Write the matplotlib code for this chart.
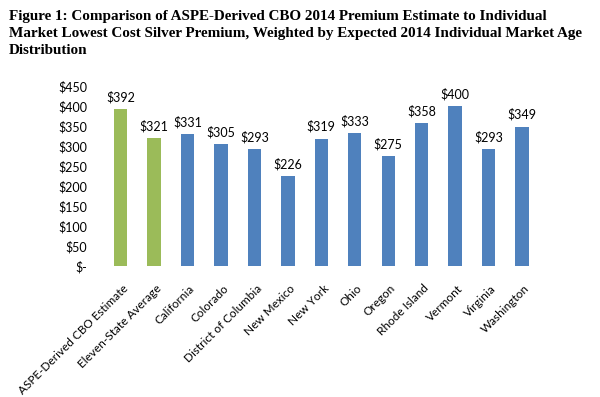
import matplotlib.pyplot as plt

categories = ["ASPE-Derived CBO Estimate", "Eleven-State Average", "California",
              "Colorado", "District of Columbia", "New Mexico", "New York", "Ohio",
              "Oregon", "Rhode Island", "Vermont", "Virginia", "Washington"]
premiums = [392, 321, 331, 305, 293, 226, 319, 333, 275, 358, 400, 293, 349]
yticks = [0, 50, 100, 150, 200, 250, 300, 350, 400, 450]
ytick_labels = ["$-", "$50", "$100", "$150", "$200", "$250", "$300", "$350", "$400", "$450"]

green = "#9bbb59"
blue = "#4f81bd"
colors = [green, green] + [blue] * (len(categories) - 2)

fig = plt.figure(figsize=(6.0, 3.97), dpi=100)
ax = fig.add_axes([0.173, 0.33, 0.725, 0.453])

x = range(len(categories))
bars = ax.bar(x, premiums, width=0.4, color=colors, edgecolor="none")
for b, v in zip(bars, premiums):
    ax.annotate(f"${v}", (b.get_x() + b.get_width() / 2, v), xytext=(0, 4),
                textcoords="offset points", ha="center", va="bottom",
                fontsize=9, family="Lato")

ax.set_xlim(-0.5, len(categories) - 0.5)
ax.set_ylim(0, 450)
ax.set_yticks(yticks)
ax.set_yticklabels(ytick_labels, fontsize=9, family="Lato")
ax.set_xticks([i + 0.05 for i in x])
ax.set_xticklabels(categories, rotation=45, ha="right", va="top",
                   rotation_mode="anchor", fontsize=8.5, family="Lato")
ax.tick_params(length=0)
ax.tick_params(axis="x", pad=12)
ax.tick_params(axis="y", pad=12)
for s in ax.spines.values():
    s.set_visible(False)

fig.text(0.015, 0.975,
         "Figure 1: Comparison of ASPE-Derived CBO 2014 Premium Estimate to Individual\n"
         "Market Lowest Cost Silver Premium, Weighted by Expected 2014 Individual Market Age\n"
         "Distribution",
         ha="left", va="top", fontsize=10.9, fontweight="bold",
         family="Liberation Serif", linespacing=1.4)

plt.savefig("out.png", dpi=100)
